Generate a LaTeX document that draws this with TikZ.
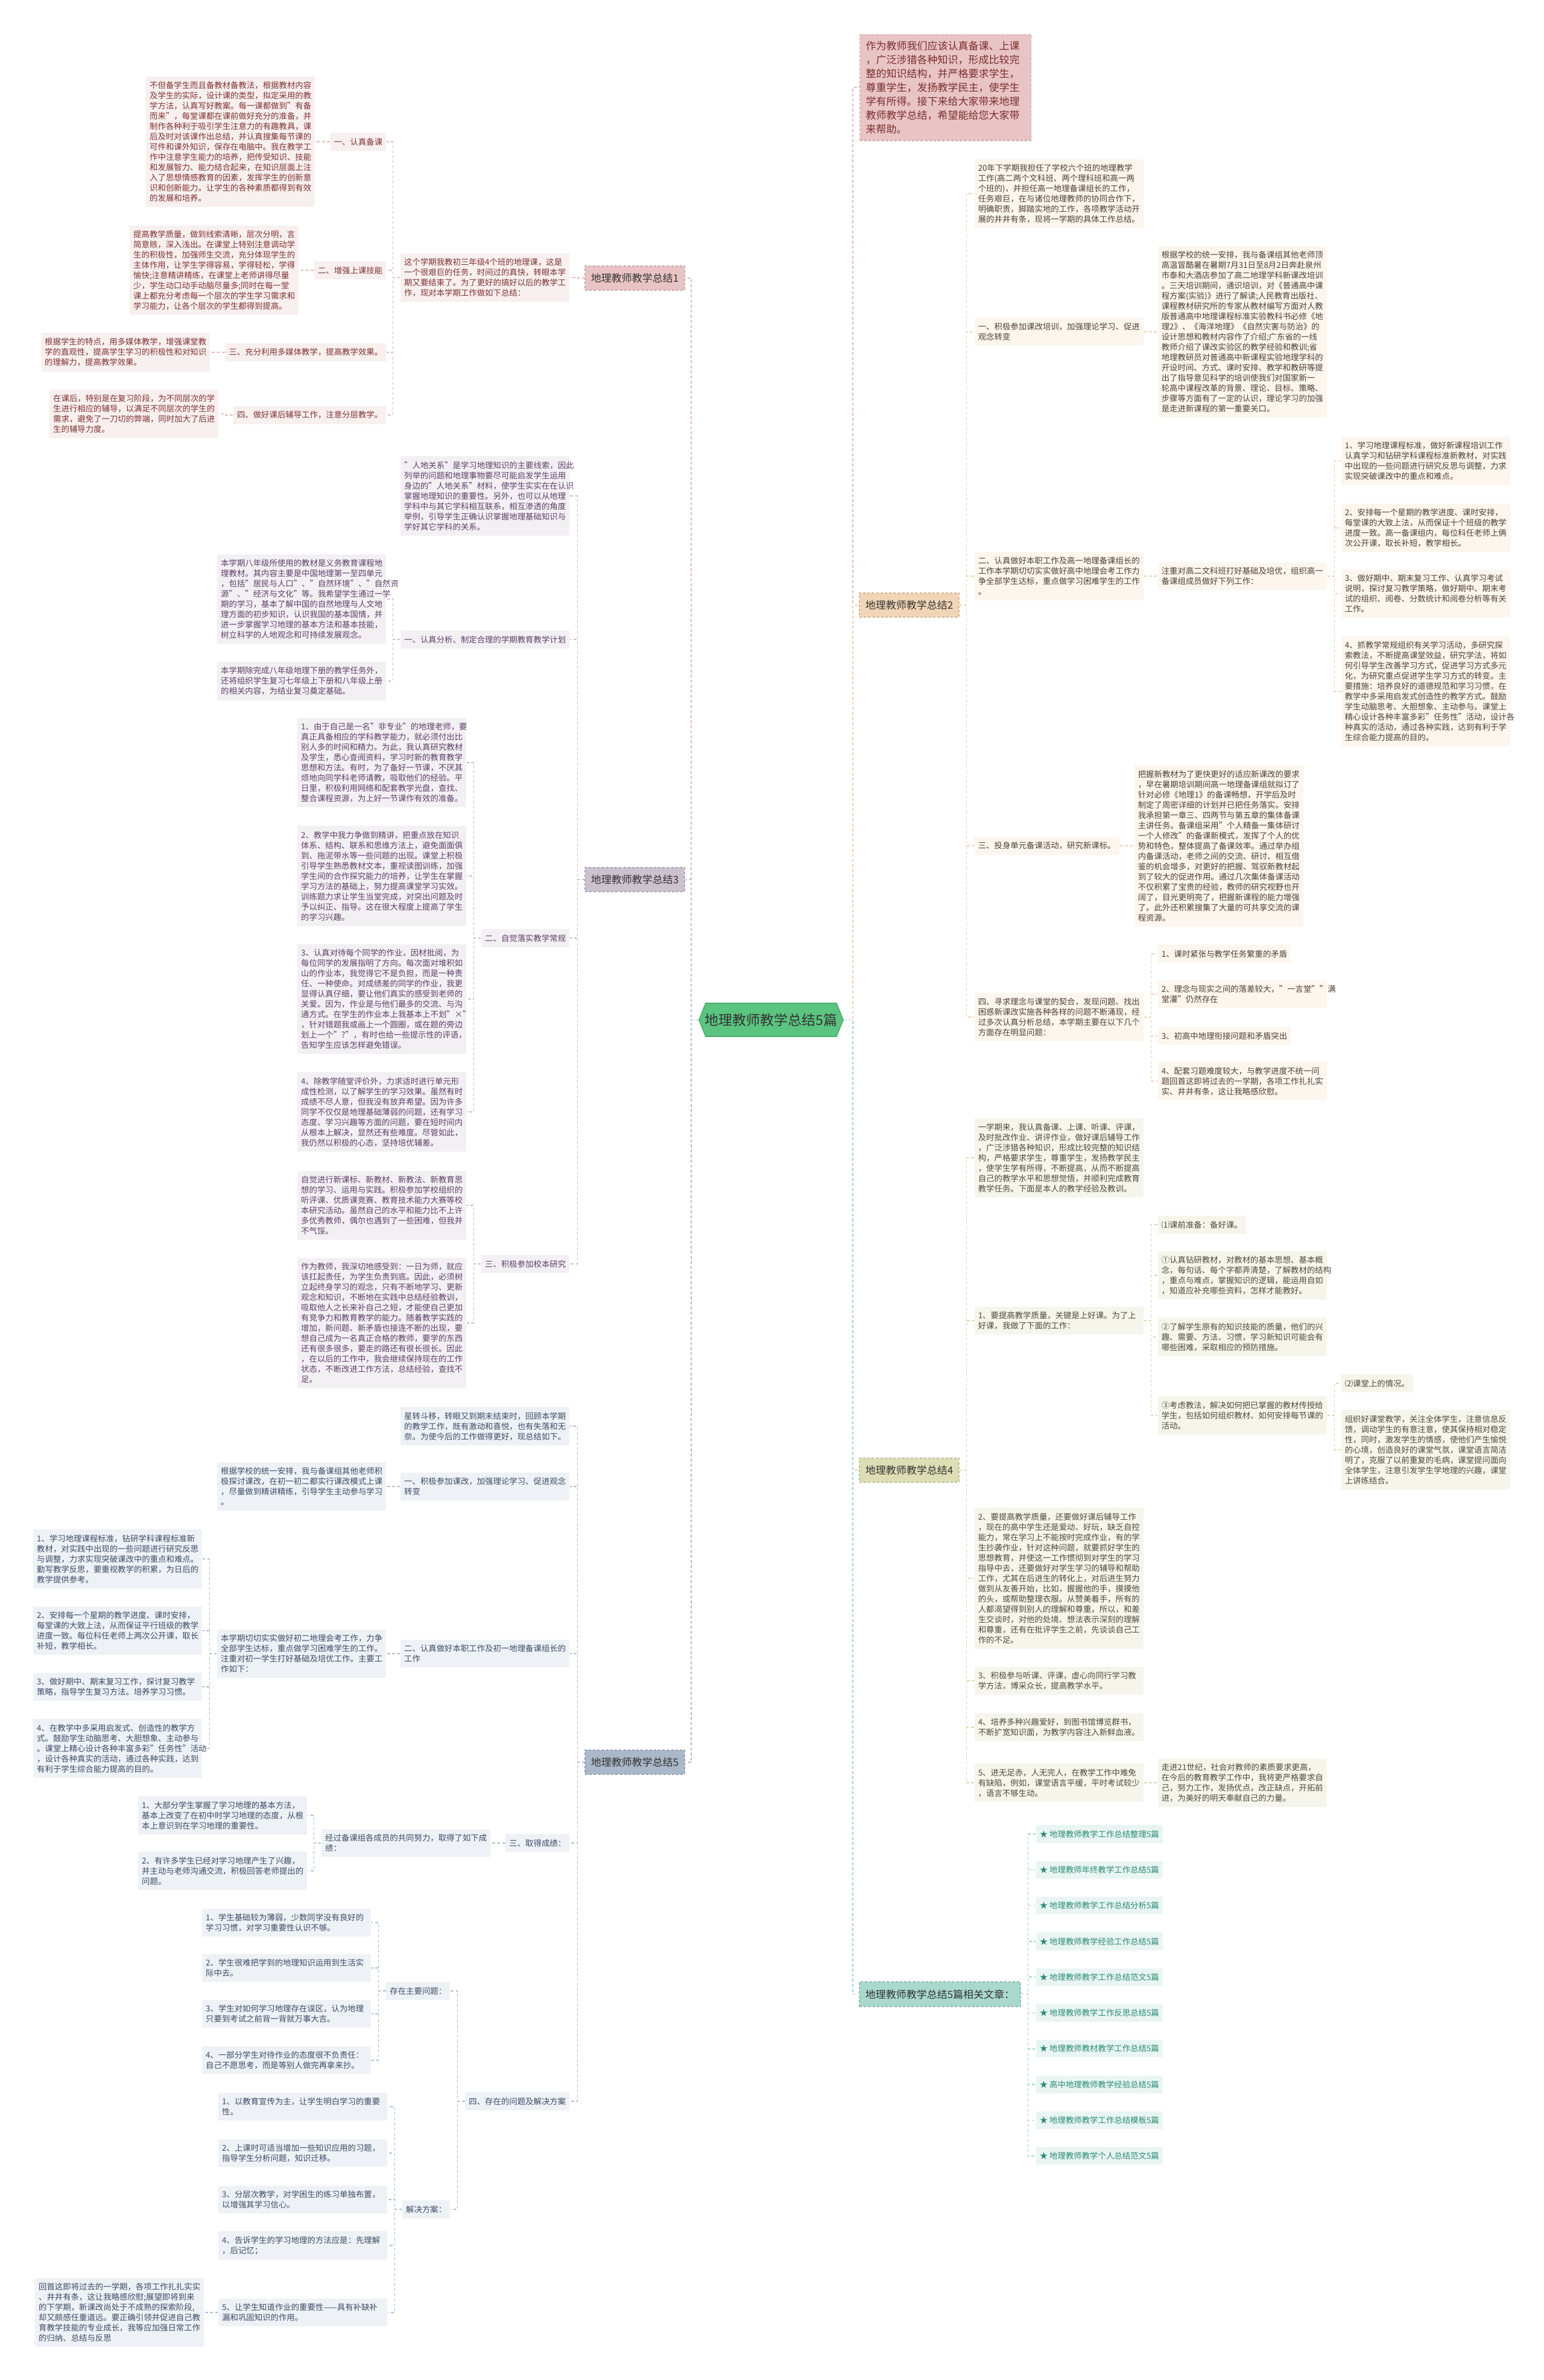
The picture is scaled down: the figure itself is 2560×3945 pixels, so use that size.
\documentclass[tikz,border=0pt]{standalone}
\usepackage{fontspec}
\setmainfont{Noto Sans CJK SC}
\definecolor{RG}{HTML}{5BC47F}
\definecolor{RGd}{HTML}{4AAE6C}
\definecolor{TB}{HTML}{333333}
\definecolor{B1}{HTML}{E9C4C4}\definecolor{F1}{HTML}{F8EFEF}\definecolor{T1}{HTML}{7F3333}\definecolor{C1}{HTML}{E3B9B9}
\definecolor{B3}{HTML}{CBC1CF}\definecolor{F3}{HTML}{F3F0F4}\definecolor{T3}{HTML}{5E3F66}\definecolor{C3}{HTML}{C7BDCB}
\definecolor{B5}{HTML}{AAB8C9}\definecolor{F5}{HTML}{EEF2F6}\definecolor{T5}{HTML}{3D4B66}\definecolor{C5}{HTML}{AFBBCB}
\definecolor{B2}{HTML}{F2D5B6}\definecolor{F2}{HTML}{FCF6EE}\definecolor{T2}{HTML}{4D4036}\definecolor{C2}{HTML}{EFCFAE}
\definecolor{B4}{HTML}{DDDEB4}\definecolor{F4}{HTML}{F5F5EC}\definecolor{T4}{HTML}{4A4A3C}\definecolor{C4}{HTML}{D6D8AE}
\definecolor{BR}{HTML}{A9D9CD}\definecolor{FR}{HTML}{E9F5F2}\definecolor{TR}{HTML}{2B8A76}\definecolor{CR}{HTML}{9ED3C6}
\definecolor{TI}{HTML}{7A2E2E}
\newcommand\cjksmall{\fontsize{3.35pt}{4.25pt}\selectfont}
\newcommand\cjkmid{\fontsize{4.25pt}{5.3pt}\selectfont}
\newcommand\cjkintro{\fontsize{4.25pt}{5.75pt}\selectfont}
\newcommand\cjkroot{\fontsize{5.75pt}{7pt}\selectfont}
\tikzset{
  every node/.style={inner xsep=1.5pt, inner ysep=2.1pt, align=left},
  tx/.style={font=\cjksmall},
  tw/.style={text width=67pt},
  L1/.style={tx, fill=F1, text=T1},
  L2/.style={tx, fill=F2, text=T2},
  L3/.style={tx, fill=F3, text=T3},
  L4/.style={tx, fill=F4, text=T4},
  L5/.style={tx, fill=F5, text=T5},
  LR/.style={tx, fill=FR, text=TR},
  brn/.style={font=\cjkmid, text=TB, minimum width=41.25pt, minimum height=10pt, inner sep=0pt, line width=0.3pt, dash pattern=on 1pt off 0.8pt, align=center},
  cn/.style={line width=0.4pt, dash pattern=on 1.2pt off 0.9pt},
  cn1/.style={cn, draw=C1}, cn2/.style={cn, draw=C2}, cn3/.style={cn, draw=C3},
  cn4/.style={cn, draw=C4}, cn5/.style={cn, draw=C5}, cnr/.style={cn, draw=CR},
}
\begin{document}
\begin{tikzpicture}[x=0.25pt,y=-0.25pt]
\fill[white] (0,0) rectangle (2560,3945);
\useasboundingbox (0,0) rectangle (2560,3945);

% ---------- root ----------
\fill[RG, draw=RGd, line width=0.4pt] (1159,1690.5) -- (1170,1663) -- (1387,1663) -- (1398,1690.5) -- (1387,1718) -- (1170,1718) -- cycle;
\node[font=\cjkroot, text=TB, minimum width=59.75pt, minimum height=13.75pt, inner sep=0pt, align=center] (root) at (1278.5,1690.5) {地理教师教学总结5篇};

% ---------- branch nodes ----------
\node[brn, fill=B1, draw=B1!85!black] (b1) at (1052.5,461) {地理教师教学总结1};
\node[brn, fill=B3, draw=B3!85!black] (b3) at (1052.5,1458) {地理教师教学总结3};
\node[brn, fill=B5, draw=B5!85!black] (b5) at (1052.5,2921) {地理教师教学总结5};
\node[brn, fill=B2, draw=B2!85!black] (b2) at (1507.5,1003) {地理教师教学总结2};
\node[brn, fill=B4, draw=B4!85!black] (b4) at (1507.5,2437) {地理教师教学总结4};
\node[brn, fill=BR, draw=BR!85!black, minimum width=66.75pt, minimum height=10.25pt] (rel) at (1558.5,3305.5) {地理教师教学总结5篇相关文章：};
\node[font=\cjkintro, text=TI, fill=B1, draw=B1!85!black, line width=0.3pt, dash pattern=on 1pt off 0.8pt, text width=66pt, inner xsep=2.5pt, inner ysep=2.75pt, anchor=west] (intro) at (1425,145) {作为教师我们应该认真备课、上课\\，广泛涉猎各种知识，形成比较完\\整的知识结构，并严格要求学生，\\尊重学生，发扬教学民主，使学生\\学有所得。接下来给大家带来地理\\教师教学总结，希望能给您大家带\\来帮助。};

% ---------- branch 1 ----------
\node[L1, tw, anchor=east] (b1i) at (945,460) {这个学期我教初三年级4个班的地理课，这是\\一个很艰巨的任务，时间过的真快，转眼本学\\期又要结束了。为了更好的搞好以后的教学工\\作，现对本学期工作做如下总结：};
\node[L1, anchor=east] (b1a) at (641,235) {一、认真备课};
\node[L1, tw, anchor=east] (b1a1) at (523,235) {不但备学生而且备教材备教法，根据教材内容\\及学生的实际，设计课的类型，拟定采用的教\\学方法，认真写好教案。每一课都做到"有备\\而来"，每堂课都在课前做好充分的准备，并\\制作各种利于吸引学生注意力的有趣教具，课\\后及时对该课作出总结，并认真搜集每节课的\\可件和课外知识，保存在电脑中。我在教学工\\作中注意学生能力的培养，把传受知识、技能\\和发展智力、能力结合起来，在知识层面上注\\入了思想情感教育的因素，发挥学生的创新意\\识和创新能力。让学生的各种素质都得到有效\\的发展和培养。};
\node[L1, anchor=east] (b1b) at (641,448) {二、增强上课技能};
\node[L1, tw, anchor=east] (b1b1) at (496,448) {提高教学质量，做到线索清晰，层次分明，言\\简意赅，深入浅出。在课堂上特别注意调动学\\生的积极性，加强师生交流，充分体现学生的\\主体作用，让学生学得容易，学得轻松，学得\\愉快;注意精讲精练，在课堂上老师讲得尽量\\少，学生动口动手动脑尽量多;同时在每一堂\\课上都充分考虑每一个层次的学生学习需求和\\学习能力，让各个层次的学生都得到提高。};
\node[L1, anchor=east] (b1c) at (641,584) {三、充分利用多媒体教学，提高教学效果。};
\node[L1, tw, anchor=east] (b1c1) at (349,584) {根据学生的特点，用多媒体教学，增强课堂教\\学的直观性，提高学生学习的积极性和对知识\\的理解力，提高教学效果。};
\node[L1, anchor=east] (b1d) at (641,688) {四、做好课后辅导工作，注意分层教学。};
\node[L1, tw, anchor=east] (b1d1) at (363,686) {在课后，特别是在复习阶段，为不同层次的学\\生进行相应的辅导，以满足不同层次的学生的\\需求，避免了一刀切的弊端，同时加大了后进\\生的辅导力度。};

% ---------- branch 3 ----------
\node[L3, tw, anchor=east] (b3i) at (945,822) {"人地关系"是学习地理知识的主要线索，因此\\列举的问题和地理事物要尽可能启发学生运用\\身边的"人地关系"材料，使学生实实在在认识\\掌握地理知识的重要性。另外，也可以从地理\\学科中与其它学科相互联系，相互渗透的角度\\举例，引导学生正确认识掌握地理基础知识与\\学好其它学科的关系。};
\node[L3, anchor=east] (b3a) at (945,1060) {一、认真分析、制定合理的学期教育教学计划};
\node[L3, tw, anchor=east] (b3a1) at (641,993) {本学期八年级所使用的教材是义务教育课程地\\理教材。其内容主要是中国地理第一至四单元\\，包括"居民与人口"、"自然环境"、"自然资\\源"、"经济与文化"等。我希望学生通过一学\\期的学习，基本了解中国的自然地理与人文地\\理方面的初步知识，认识我国的基本国情，并\\进一步掌握学习地理的基本方法和基本技能，\\树立科学的人地观念和可持续发展观念。};
\node[L3, tw, anchor=east] (b3a2) at (641,1129) {本学期除完成八年级地理下册的教学任务外，\\还将组织学生复习七年级上下册和八年级上册\\的相关内容，为结业复习奠定基础。};
\node[L3, anchor=east] (b3b) at (945,1555) {二、自觉落实教学常规};
\node[L3, tw, anchor=east] (c1) at (774,1264) {1、由于自己是一名"非专业"的地理老师，要\\真正具备相应的学科教学能力，就必须付出比\\别人多的时间和精力。为此，我认真研究教材\\及学生，悉心查阅资料，学习时新的教育教学\\思想和方法。有时，为了备好一节课，不厌其\\烦地向同学科老师请教，吸取他们的经验。平\\日里，积极利用网络和配套教学光盘，查找、\\整合课程资源，为上好一节课作有效的准备。};
\node[L3, tw, anchor=east] (c2) at (774,1452) {2、教学中我力争做到精讲，把重点放在知识\\体系、结构、联系和思维方法上，避免面面俱\\到、拖泥带水等一些问题的出现。课堂上积极\\引导学生熟悉教材文本，重视读图训练，加强\\学生间的合作探究能力的培养，让学生在掌握\\学习方法的基础上，努力提高课堂学习实效。\\训练题力求让学生当堂完成，对突出问题及时\\予以纠正、指导。这在很大程度上提高了学生\\的学习兴趣。};
\node[L3, tw, anchor=east] (c3) at (774,1656) {3、认真对待每个同学的作业，因材批阅，为\\每位同学的发展指明了方向。每次面对堆积如\\山的作业本，我觉得它不是负担，而是一种责\\任、一种使命。对成绩差的同学的作业，我更\\显得认真仔细，要让他们真实的感受到老师的\\关爱。因为，作业是与他们最多的交流、与沟\\通方式。在学生的作业本上我基本上不划"×"\\，针对错题我或画上一个圆圈，或在题的旁边\\划上一个"?"，有时也给一些提示性的评语，\\告知学生应该怎样避免错误。};
\node[L3, tw, anchor=east] (c4) at (774,1843) {4、除教学随堂评价外，力求适时进行单元形\\成性检测，以了解学生的学习效果。虽然有时\\成绩不尽人意，但我没有放弃希望。因为许多\\同学不仅仅是地理基础薄弱的问题，还有学习\\态度、学习兴趣等方面的问题，要在短时间内\\从根本上解决，显然还有些难度。尽管如此，\\我仍然以积极的心态，坚持培优辅差。};
\node[L3, anchor=east] (b3c) at (945,2095) {三、积极参加校本研究};
\node[L3, tw, anchor=east] (d1) at (774,1998) {自觉进行新课标、新教材、新教法、新教育思\\想的学习、运用与实践。积极参加学校组织的\\听评课、优质课竞赛、教育技术能力大赛等校\\本研究活动。虽然自己的水平和能力比不上许\\多优秀教师，偶尔也遇到了一些困难，但我并\\不气馁。};
\node[L3, tw, anchor=east] (d2) at (774,2193) {作为教师，我深切地感受到：一日为师，就应\\该扛起责任，为学生负责到底。因此，必须树\\立起终身学习的观念，只有不断地学习、更新\\观念和知识，不断地在实践中总结经验教训，\\吸取他人之长来补自己之短，才能使自己更加\\有竞争力和教育教学的能力。随着教学实践的\\增加，新问题、新矛盾也接连不断的出现，要\\想自己成为一名真正合格的教师，要学的东西\\还有很多很多，要走的路还有很长很长。因此\\，在以后的工作中，我会继续保持现在的工作\\状态，不断改进工作方法，总结经验，查找不\\足。};

% ---------- branch 5 ----------
\node[L5, tw, anchor=east] (b5i) at (945,2364) {星转斗移，转眼又到期末结束时，回顾本学期\\的教学工作，既有激动和喜悦，也有失落和无\\奈。为使今后的工作做得更好，现总结如下。};
\node[L5, tw, anchor=east] (b5a) at (945,2464) {一、积极参加课改，加强理论学习、促进观念\\转变};
\node[L5, tw, anchor=east] (b5a1) at (641,2464) {根据学校的统一安排，我与备课组其他老师积\\极探讨课改，在初一初二都实行课改模式上课\\，尽量做到精讲精练，引导学生主动参与学习\\。};
\node[L5, tw, anchor=east] (b5b) at (945,2741) {二、认真做好本职工作及初一地理备课组长的\\工作};
\node[L5, tw, anchor=east] (b5b1) at (641,2741) {本学期切切实实做好初二地理会考工作，力争\\全部学生达标，重点做学习困难学生的工作。\\注重对初一学生打好基础及培优工作。主要工\\作如下：};
\node[L5, tw, anchor=east] (e1) at (336,2584) {1、学习地理课程标准，钻研学科课程标准新\\教材，对实践中出现的一些问题进行研究反思\\与调整，力求实现突破课改中的重点和难点。\\勤写教学反思，要重视教学的积累，为日后的\\教学提供参考。};
\node[L5, tw, anchor=east] (e2) at (336,2703) {2、安排每一个星期的教学进度、课时安排，\\每堂课的大致上法，从而保证平行班级的教学\\进度一致。每位科任老师上两次公开课，取长\\补短，教学相长。};
\node[L5, tw, anchor=east] (e3) at (336,2796) {3、做好期中、期末复习工作，探讨复习教学\\策略，指导学生复习方法。培养学习习惯。};
\node[L5, tw, anchor=east] (e4) at (336,2898) {4、在教学中多采用启发式、创造性的教学方\\式。鼓励学生动脑思考、大胆想象、主动参与\\。课堂上精心设计各种丰富多彩"任务性"活动\\，设计各种真实的活动，通过各种实践，达到\\有利于学生综合能力提高的目的。};
\node[L5, anchor=east] (b5c) at (945,3055) {三、取得成绩：};
\node[L5, tw, anchor=east] (b5c1) at (814,3055) {经过备课组各成员的共同努力，取得了如下成\\绩：};
\node[L5, tw, anchor=east] (f1) at (510,3009) {1、大部分学生掌握了学习地理的基本方法，\\基本上改变了在初中时学习地理的态度，从根\\本上意识到在学习地理的重要性。};
\node[L5, tw, anchor=east] (f2) at (510,3101) {2、有许多学生已经对学习地理产生了兴趣，\\并主动与老师沟通交流，积极回答老师提出的\\问题。};
\node[L5, anchor=east] (b5d) at (945,3483) {四、存在的问题及解决方案};
\node[L5, anchor=east] (g1) at (747,3300) {存在主要问题：};
\node[L5, anchor=east] (g2) at (747,3662) {解决方案：};
\node[L5, tw, anchor=east] (h1) at (616,3187) {1、学生基础较为薄弱，少数同学没有良好的\\学习习惯，对学习重要性认识不够。};
\node[L5, tw, anchor=east] (h2) at (616,3262) {2、学生很难把学到的地理知识运用到生活实\\际中去。};
\node[L5, tw, anchor=east] (h3) at (616,3338) {3、学生对如何学习地理存在误区，认为地理\\只要到考试之前背一背就万事大吉。};
\node[L5, tw, anchor=east] (h4) at (616,3415) {4、一部分学生对待作业的态度很不负责任：\\自己不愿思考，而是等别人做完再拿来抄。};
\node[L5, tw, anchor=east] (i1) at (643,3492) {1、以教育宣传为主，让学生明白学习的重要\\性。};
\node[L5, tw, anchor=east] (i2) at (643,3569) {2、上课时可适当增加一些知识应用的习题，\\指导学生分析问题，知识迁移。};
\node[L5, tw, anchor=east] (i3) at (643,3646) {3、分层次教学，对学困生的练习单独布置，\\以增强其学习信心。};
\node[L5, tw, anchor=east] (i4) at (643,3722) {4、告诉学生的学习地理的方法应是：先理解\\，后记忆；};
\node[L5, tw, anchor=east] (i5) at (643,3833) {5、让学生知道作业的重要性——具有补缺补\\漏和巩固知识的作用。};
\node[L5, tw, anchor=east] (j1) at (339,3833) {回首这即将过去的一学期，各项工作扎扎实实\\、井井有条，这让我略感欣慰;展望即将到来\\的下学期，新课改尚处于不成熟的探索阶段,\\却又颇感任重道远。要正确引领并促进自己教\\育教学技能的专业成长，我等应加强日常工作\\的归纳、总结与反思};

% ---------- branch 2 ----------
\node[L2, tw, anchor=west] (b2i) at (1615,321) {20年下学期我担任了学校六个班的地理教学\\工作(高二两个文科班、两个理科班和高一两\\个班的)，并担任高一地理备课组长的工作，\\任务艰巨，在与诸位地理教师的协同合作下，\\明确职责，脚踏实地的工作，各项教学活动开\\展的井井有条，现将一学期的具体工作总结。};
\node[L2, tw, anchor=west] (b2a) at (1615,550) {一、积极参加课改培训，加强理论学习、促进\\观念转变};
\node[L2, tw, anchor=west] (b2a1) at (1919,550) {根据学校的统一安排，我与备课组其他老师顶\\高温冒酷暑在暑期7月31日至8月2日奔赴泉州\\市泰和大酒店参加了高二地理学科新课改培训\\。三天培训期间，通识培训，对《普通高中课\\程方案(实验)》进行了解读;人民教育出版社、\\课程教材研究所的专家从教材编写方面对人教\\版普通高中地理课程标准实验教科书必修《地\\理2》、《海洋地理》《自然灾害与防治》的\\设计思想和教材内容作了介绍;广东省的一线\\教师介绍了课改实验区的教学经验和教训;省\\地理教研员对普通高中新课程实验地理学科的\\开设时间、方式、课时安排、教学和教研等提\\出了指导意见科学的培训使我们对国家新一\\轮高中课程改革的背景、理论、目标、策略、\\步骤等方面有了一定的认识，理论学习的加强\\是走进新课程的第一重要关口。};
\node[L2, tw, anchor=west] (b2b) at (1615,955) {二、认真做好本职工作及高一地理备课组长的\\工作本学期切切实实做好高中地理会考工作力\\争全部学生达标，重点做学习困难学生的工作\\。};
\node[L2, tw, anchor=west] (b2b1) at (1919,955) {注重对高二文科班打好基础及培优，组织高一\\备课组成员做好下列工作：};
\node[L2, tw, anchor=west] (k1) at (2223,764) {1、学习地理课程标准，做好新课程培训工作\\认真学习和钻研学科课程标准新教材，对实践\\中出现的一些问题进行研究反思与调整，力求\\实现突破课改中的重点和难点。};
\node[L2, tw, anchor=west] (k2) at (2223,875) {2、安排每一个星期的教学进度、课时安排，\\每堂课的大致上法，从而保证十个班级的教学\\进度一致。高一备课组内，每位科任老师上俩\\次公开课，取长补短，教学相长。};
\node[L2, tw, anchor=west] (k3) at (2223,984) {3、做好期中、期末复习工作、认真学习考试\\说明，探讨复习教学策略，做好期中、期末考\\试的组织、阅卷、分数统计和阅卷分析等有关\\工作。};
\node[L2, tw, anchor=west] (k4) at (2223,1146) {4、抓教学常规组织有关学习活动，多研究探\\索教法，不断提高课堂效益，研究学法，将如\\何引导学生改善学习方式，促进学习方式多元\\化，为研究重点促进学生学习方式的转变。主\\要措施：培养良好的道德规范和学习习惯，在\\教学中多采用启发式创造性的教学方式。鼓励\\学生动脑思考、大胆想象、主动参与。课堂上\\精心设计各种丰富多彩"任务性"活动，设计各\\种真实的活动，通过各种实践，达到有利于学\\生综合能力提高的目的。};
\node[L2, anchor=west] (b2c) at (1615,1402) {三、投身单元备课活动，研究新课标。};
\node[L2, tw, anchor=west] (b2c1) at (1880,1402) {把握新教材为了更快更好的适应新课改的要求\\，早在暑期培训期间高一地理备课组就拟订了\\针对必修《地理1》的备课畅想，开学后及时\\制定了周密详细的计划并已把任务落实。安排\\我承担第一章三、四两节与第五章的集体备课\\主讲任务。备课组采用"个人精备一集体研讨\\一个人修改"的备课新模式，发挥了个人的优\\势和特色，整体提高了备课效率。通过举办组\\内备课活动，老师之间的交流、研讨、相互借\\鉴的机会增多，对更好的把握、驾驭新教材起\\到了较大的促进作用。通过几次集体备课活动\\不仅积累了宝贵的经验，教师的研究视野也开\\阔了，目光更明亮了，把握新课程的能力增强\\了。此外还积累搜集了大量的可共享交流的课\\程资源。};
\node[L2, tw, anchor=west] (b2d) at (1615,1686) {四、寻求理念与课堂的契合，发现问题、找出\\困惑新课改实施各种各样的问题不断涌现，经\\过多次认真分析总结，本学期主要在以下几个\\方面存在明显问题：};
\node[L2, anchor=west] (l1) at (1919,1581) {1、课时紧张与教学任务繁重的矛盾};
\node[L2, tw, anchor=west] (l2) at (1919,1648) {2、理念与现实之间的落差较大，"一言堂""满\\堂灌"仍然存在};
\node[L2, anchor=west] (l3) at (1919,1717) {3、初高中地理衔接问题和矛盾突出};
\node[L2, tw, anchor=west] (l4) at (1919,1792) {4、配套习题难度较大，与教学进度不统一问\\题回首这即将过去的一学期，各项工作扎扎实\\实、井井有条，这让我略感欣慰。};

% ---------- branch 4 ----------
\node[L4, tw, anchor=west] (b4i) at (1615,1919) {一学期来，我认真备课、上课、听课、评课，\\及时批改作业、讲评作业，做好课后辅导工作\\，广泛涉猎各种知识，形成比较完整的知识结\\构，严格要求学生，尊重学生，发扬教学民主\\，使学生学有所得，不断提高，从而不断提高\\自己的教学水平和思想觉悟，并顺利完成教育\\教学任务。下面是本人的教学经验及教训。};
\node[L4, tw, anchor=west] (b4a) at (1615,2189) {1、要提高教学质量，关键是上好课。为了上\\好课，我做了下面的工作：};
\node[L4, anchor=west] (m1) at (1919,2030) {⑴课前准备：备好课。};
\node[L4, tw, anchor=west] (m2) at (1919,2114) {①认真钻研教材，对教材的基本思想、基本概\\念，每句话、每个字都弄清楚，了解教材的结构\\，重点与难点，掌握知识的逻辑，能运用自如\\，知道应补充哪些资料，怎样才能教好。};
\node[L4, tw, anchor=west] (m3) at (1919,2216) {②了解学生原有的知识技能的质量，他们的兴\\趣、需要、方法、习惯，学习新知识可能会有\\哪些困难，采取相应的预防措施。};
\node[L4, tw, anchor=west] (m4) at (1919,2346) {③考虑教法，解决如何把已掌握的教材传授给\\学生，包括如何组织教材、如何安排每节课的\\活动。};
\node[L4, anchor=west] (n1) at (2223,2293) {⑵课堂上的情况。};
\node[L4, tw, anchor=west] (n2) at (2223,2403) {组织好课堂教学，关注全体学生，注意信息反\\馈，调动学生的有意注意，使其保持相对稳定\\性，同时，激发学生的情感，使他们产生愉悦\\的心境，创造良好的课堂气氛，课堂语言简洁\\明了，克服了以前重复的毛病，课堂提问面向\\全体学生，注意引发学生学地理的兴趣，课堂\\上讲练结合。};
\node[L4, tw, anchor=west] (b4b) at (1615,2616) {2、要提高教学质量，还要做好课后辅导工作\\，现在的高中学生还是爱动、好玩，缺乏自控\\能力，常在学习上不能按时完成作业，有的学\\生抄袭作业，针对这种问题，就要抓好学生的\\思想教育，并使这一工作惯彻到对学生的学习\\指导中去，还要做好对学生学习的辅导和帮助\\工作，尤其在后进生的转化上，对后进生努力\\做到从友善开始，比如，握握他的手，摸摸他\\的头，或帮助整理衣服。从赞美着手，所有的\\人都渴望得到别人的理解和尊重，所以，和差\\生交谈时，对他的处境、想法表示深刻的理解\\和尊重，还有在批评学生之前，先谈谈自己工\\作的不足。};
\node[L4, tw, anchor=west] (b4c) at (1615,2786) {3、积极参与听课、评课，虚心向同行学习教\\学方法，博采众长，提高教学水平。};
\node[L4, tw, anchor=west] (b4d) at (1615,2863) {4、培养多种兴趣爱好，到图书馆博览群书，\\不断扩宽知识面，为教学内容注入新鲜血液。};
\node[L4, tw, anchor=west] (b4e) at (1615,2955) {5、进无足赤，人无完人，在教学工作中难免\\有缺陷，例如，课堂语言平缓，平时考试较少\\，语言不够生动。};
\node[L4, tw, anchor=west] (b4e1) at (1919,2955) {走进21世纪，社会对教师的素质要求更高，\\在今后的教育教学工作中，我将更严格要求自\\己，努力工作，发扬优点，改正缺点，开拓前\\进，为美好的明天奉献自己的力量。};

% ---------- related articles ----------
\node[LR, anchor=west] (r1) at (1717,3040) {★ 地理教师教学工作总结整理5篇};
\node[LR, anchor=west] (r2) at (1717,3099.3) {★ 地理教师年终教学工作总结5篇};
\node[LR, anchor=west] (r3) at (1717,3158.6) {★ 地理教师教学工作总结分析5篇};
\node[LR, anchor=west] (r4) at (1717,3217.9) {★ 地理教师教学经验工作总结5篇};
\node[LR, anchor=west] (r5) at (1717,3277.2) {★ 地理教师教学工作总结范文5篇};
\node[LR, anchor=west] (r6) at (1717,3336.5) {★ 地理教师教学工作反思总结5篇};
\node[LR, anchor=west] (r7) at (1717,3395.8) {★ 地理教师教材教学工作总结5篇};
\node[LR, anchor=west] (r8) at (1717,3455.1) {★ 高中地理教师教学经验总结5篇};
\node[LR, anchor=west] (r9) at (1717,3514.4) {★ 地理教师教学工作总结模板5篇};
\node[LR, anchor=west] (r10) at (1717,3573.7) {★ 地理教师教学个人总结范文5篇};

% ---------- connectors: root ----------
\draw[cn1] (root.west) -- ++(-12,0) |- (b1.east);
\draw[cn3] (root.west) -- ++(-12,0) |- (b3.east);
\draw[cn5] (root.west) -- ++(-12,0) |- (b5.east);
\draw[cn1] (root.east) -- ++(15,0) |- (intro.west);
\draw[cn2] (root.east) -- ++(15,0) |- (b2.east -| b2.west);
\draw[cn4] (root.east) -- ++(15,0) |- (b4.west);
\draw[cnr] (root.east) -- ++(15,0) |- (rel.west);

% ---------- connectors: left side ----------
\draw[cn1] (b1.west) -- ++(-12,0) |- (b1i.east);
\foreach \c in {b1a,b1b,b1c,b1d} \draw[cn1] (b1i.west) -- ++(-12,0) |- (\c.east);
\draw[cn1] (b1a.west) -- ++(-12,0) |- (b1a1.east);
\draw[cn1] (b1b.west) -- ++(-12,0) |- (b1b1.east);
\draw[cn1] (b1c.west) -- ++(-12,0) |- (b1c1.east);
\draw[cn1] (b1d.west) -- ++(-12,0) |- (b1d1.east);

\foreach \c in {b3i,b3a,b3b,b3c} \draw[cn3] (b3.west) -- ++(-12,0) |- (\c.east);
\foreach \c in {b3a1,b3a2} \draw[cn3] (b3a.west) -- ++(-12,0) |- (\c.east);
\foreach \c in {c1,c2,c3,c4} \draw[cn3] (b3b.west) -- ++(-12,0) |- (\c.east);
\foreach \c in {d1,d2} \draw[cn3] (b3c.west) -- ++(-12,0) |- (\c.east);

\foreach \c in {b5i,b5a,b5b,b5c,b5d} \draw[cn5] (b5.west) -- ++(-12,0) |- (\c.east);
\draw[cn5] (b5a.west) -- ++(-12,0) |- (b5a1.east);
\draw[cn5] (b5b.west) -- ++(-12,0) |- (b5b1.east);
\foreach \c in {e1,e2,e3,e4} \draw[cn5] (b5b1.west) -- ++(-12,0) |- (\c.east);
\draw[cn5] (b5c.west) -- ++(-12,0) |- (b5c1.east);
\foreach \c in {f1,f2} \draw[cn5] (b5c1.west) -- ++(-12,0) |- (\c.east);
\foreach \c in {g1,g2} \draw[cn5] (b5d.west) -- ++(-12,0) |- (\c.east);
\foreach \c in {h1,h2,h3,h4} \draw[cn5] (g1.west) -- ++(-12,0) |- (\c.east);
\foreach \c in {i1,i2,i3,i4,i5} \draw[cn5] (g2.west) -- ++(-12,0) |- (\c.east);
\draw[cn5] (i5.west) -- ++(-12,0) |- (j1.east);

% ---------- connectors: right side ----------
\foreach \c in {b2i,b2a,b2b,b2c,b2d} \draw[cn2] (b2.east) -- ++(12,0) |- (\c.west);
\draw[cn2] (b2a.east) -- ++(12,0) |- (b2a1.west);
\draw[cn2] (b2b.east) -- ++(12,0) |- (b2b1.west);
\foreach \c in {k1,k2,k3,k4} \draw[cn2] (b2b1.east) -- ++(12,0) |- (\c.west);
\draw[cn2] (b2c.east) -- ++(12,0) |- (b2c1.west);
\foreach \c in {l1,l2,l3,l4} \draw[cn2] (b2d.east) -- ++(12,0) |- (\c.west);

\foreach \c in {b4i,b4a,b4b,b4c,b4d,b4e} \draw[cn4] (b4.east) -- ++(12,0) |- (\c.west);
\foreach \c in {m1,m2,m3,m4} \draw[cn4] (b4a.east) -- ++(12,0) |- (\c.west);
\foreach \c in {n1,n2} \draw[cn4] (m4.east) -- ++(12,0) |- (\c.west);
\draw[cn4] (b4e.east) -- ++(12,0) |- (b4e1.west);

\foreach \c in {r1,r2,r3,r4,r5,r6,r7,r8,r9,r10} \draw[cnr] (rel.east) -- ++(12,0) |- (\c.west);
\end{tikzpicture}
\end{document}
